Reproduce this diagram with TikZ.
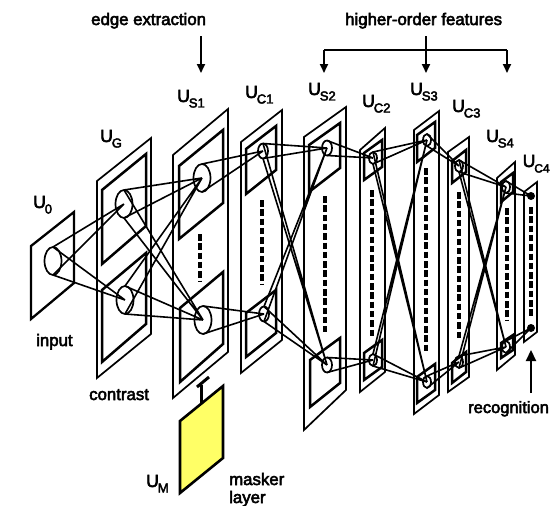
\documentclass[tikz,border=0pt]{standalone}
\usepackage{fontspec}
\newfontfamily\labfont[FakeBold=3.2]{Liberation Sans}
\usetikzlibrary{arrows.meta,shapes.geometric}
\definecolor{maskyellow}{HTML}{FFFF66}
\tikzset{
  x=1pt,y=-1pt,
  plate/.style={draw=black,line width=1.7pt,miter limit=10},
  innerplate/.style={draw=black,line width=2.5pt,miter limit=10},
  link/.style={draw=black,line width=1.6pt},
  cell/.style={draw=black,line width=1.7pt,ellipse,inner sep=0pt,outer sep=0pt},
  cellA/.style={cell,minimum width=17pt,minimum height=28pt},
  cellB/.style={cell,minimum width=10pt,minimum height=15pt},
  cellC/.style={cell,minimum width=8pt,minimum height=12pt},
  dotcell/.style={circle,fill=black,inner sep=0pt,minimum size=8pt},
  dots/.style={draw=black,line width=4.8pt,dash pattern=on 6.5pt off 2.8pt},
  lbl/.style={inner sep=0pt,anchor=base west,font=\labfont\fontsize{16.8}{18}\selectfont},
  ulbl/.style={inner sep=0pt,anchor=base west,font=\labfont\fontsize{17.5}{18}\selectfont},
  arr/.style={draw=black,line width=1.7pt,-{Triangle[length=9pt,width=8pt]}},
}
\newcommand{\ulab}[4]{\node[ulbl] (#1) at (#2,#3) {U\kern-1pt\raisebox{-5.5pt}{\fontsize{13}{14}\selectfont #4}};}
\newcommand{\cone}[2]{\draw[link] (#1.north) -- (#2.center) (#1.south) -- (#2.center);}
\begin{document}
\begin{tikzpicture}
\useasboundingbox (0,0) rectangle (550,506);
% U0
\draw[plate,line width=2.3pt] (31,246) -- (74,212) -- (74,283) -- (31,319) -- cycle;
% UG
\draw[plate] (97,181) -- (151,138) -- (151,334) -- (97,378) -- cycle;
\draw[innerplate] (102,190) -- (146,154) -- (146,226) -- (102,264) -- cycle;
\draw[innerplate] (102,290) -- (146,253) -- (146,324) -- (102,362) -- cycle;
% US1
\draw[plate] (173,155) -- (228,109) -- (228,352) -- (173,398) -- cycle;
\draw[innerplate] (179,166) -- (223,130) -- (223,203) -- (179,239) -- cycle;
\draw[innerplate] (180,308) -- (223,272) -- (223,344) -- (180,382) -- cycle;
\draw[dots] (200,234) -- (200,281);
% UC1
\draw[plate] (241,142) -- (282,110) -- (282,340) -- (241,373) -- cycle;
\draw[innerplate] (246,149) -- (276,126) -- (276,170) -- (246,194) -- cycle;
\draw[innerplate] (246,313) -- (276,290) -- (276,333) -- (246,357) -- cycle;
\draw[dots] (262,200) -- (262,285);
% US2
\draw[plate] (304,137) -- (346,107) -- (346,390) -- (304,430) -- cycle;
\draw[innerplate] (309,145) -- (340,123) -- (340,168) -- (309,192) -- cycle;
\draw[innerplate] (310,360) -- (340,338) -- (340,383) -- (310,407) -- cycle;
\draw[dots] (325,196) -- (325,332);
% UC2
\draw[plate] (360,150) -- (385,128) -- (385,372) -- (360,392) -- cycle;
\draw[innerplate] (364,153) -- (382,140) -- (382,167) -- (364,180) -- cycle;
\draw[innerplate] (364,353) -- (382,340) -- (382,367) -- (364,380) -- cycle;
\draw[dots] (372,190) -- (372,337);
% US3
\draw[plate] (414,130) -- (439,111) -- (439,395) -- (414,414) -- cycle;
\draw[innerplate] (417,135) -- (435,122) -- (435,148) -- (417,162) -- cycle;
\draw[innerplate] (417,377) -- (435,364) -- (435,390) -- (417,403) -- cycle;
\draw[dots] (426,168) -- (426,353);
% UC3
\draw[plate] (448,152) -- (469,137) -- (469,377) -- (448,392) -- cycle;
\draw[innerplate] (452,161) -- (466,150) -- (466,172) -- (452,183) -- cycle;
\draw[innerplate] (452,363) -- (466,352) -- (466,372) -- (452,383) -- cycle;
\draw[dots] (459,192) -- (459,340);
% US4
\draw[plate] (497,178) -- (515,162) -- (515,355) -- (497,370) -- cycle;
\draw[innerplate] (501,182) -- (513,173) -- (513,192) -- (501,202) -- cycle;
\draw[innerplate] (501,343) -- (513,335) -- (513,350) -- (501,358) -- cycle;
\draw[dots] (507,208) -- (507,320);
% UC4
\draw[plate] (524,192) -- (537,182) -- (537,332) -- (524,342) -- cycle;
\draw[dots] (531,207) -- (531,317);
% masker
\draw[draw=black,line width=2.6pt,fill=maskyellow] (180,421) -- (223,386) -- (223,458) -- (180,493) -- cycle;
\coordinate (tfoot) at (201,403);
\coordinate (ttop) at (201,385);
\draw[line width=3pt] (tfoot) -- (ttop);
\coordinate (tbarA) at (197,387);
\coordinate (tbarB) at (209,377);
\draw[line width=3pt] (tbarA) -- (tbarB);
% cells
\node[cellA] (a0) at (53,261) {};
\node[cellA] (g1) at (124,204) {};
\node[cellA] (g2) at (125,300) {};
\node[cellA] (s1a) at (202,178) {};
\node[cellA] (s1b) at (203,320) {};
\node[cellB] (c1a) at (263,151) {};
\node[cellB] (c1b) at (264,314) {};
\node[cellB] (s2a) at (327,148) {};
\node[cellB] (s2b) at (327,365) {};
\node[cellC] (c2a) at (373,158) {};
\node[cellC] (c2b) at (373,360) {};
\node[cellC] (s3a) at (427,140) {};
\node[cellC] (s3b) at (427,382) {};
\node[cellC] (c3a) at (459,166) {};
\node[cellC] (c3b) at (459,362) {};
\node[cellC] (s4a) at (506,187) {};
\node[cellC] (s4b) at (506,347) {};
\node[dotcell] (c4a) at (531,196) {};
\node[dotcell] (c4b) at (531,328) {};
% connectors
\cone{a0}{g1}\cone{a0}{g2}
\cone{g1}{s1a}\cone{g1}{s1b}\cone{g2}{s1a}\cone{g2}{s1b}
\cone{s1a}{c1a}\cone{s1b}{c1b}
\cone{c1a}{s2a}\cone{c1a}{s2b}\cone{c1b}{s2a}\cone{c1b}{s2b}
\cone{s2a}{c2a}\cone{s2b}{c2b}
\cone{c2a}{s3a}\cone{c2a}{s3b}\cone{c2b}{s3a}\cone{c2b}{s3b}
\cone{s3a}{c3a}\cone{s3b}{c3b}
\cone{c3a}{s4a}\cone{c3a}{s4b}\cone{c3b}{s4a}\cone{c3b}{s4b}
\cone{s4a}{c4a}\cone{s4b}{c4b}
% top arrows
\coordinate (e0) at (201,36);
\coordinate (e1) at (201,73);
\draw[arr] (e0) -- (e1);
\coordinate (h0) at (426,36);
\coordinate (hm) at (426,50);
\coordinate (hl) at (324,50);
\coordinate (hr) at (507,50);
\coordinate (hmt) at (426,73);
\coordinate (hlt) at (324,73);
\coordinate (hrt) at (507,73);
\draw[line width=1.7pt] (h0) -- (hm);
\draw[line width=1.7pt] (hl) -- (hr);
\draw[arr] (hm) -- (hmt);
\draw[arr] (hl) -- (hlt);
\draw[arr] (hr) -- (hrt);
\coordinate (r0) at (531,393);
\coordinate (r1) at (531,350);
\draw[draw=black,line width=2.2pt,-{Triangle[length=11pt,width=10pt]}] (r0) -- (r1);
% labels
\node[lbl] (tedge) at (91,25) {edge extraction};
\node[lbl] (thigh) at (345,25) {higher-order features};
\node[lbl] (tinput) at (36,346) {input};
\node[lbl] (tcontrast) at (89,400) {contrast};
\node[lbl,font=\labfont\fontsize{16.5}{18}\selectfont] (trecog) at (468,413) {recognition};
\node[lbl] (tmask) at (229,485) {masker};
\node[lbl] (tlayer) at (229,503) {layer};
\ulab{u0}{33}{208}{0}
\ulab{ug}{100}{142}{G}
\ulab{us1}{177}{102}{S1}
\ulab{uc1}{245}{98}{C1}
\ulab{us2}{308}{95}{S2}
\ulab{uc2}{362}{107}{C2}
\ulab{us3}{410}{95}{S3}
\ulab{uc3}{452}{112}{C3}
\ulab{us4}{486}{142}{S4}
\node[ulbl] (uc4) at (522.5,167) {U\kern-1pt\raisebox{-5.5pt}{\fontsize{12}{14}\selectfont C4}};
\ulab{um}{146}{487}{M}
\end{tikzpicture}
\end{document}
